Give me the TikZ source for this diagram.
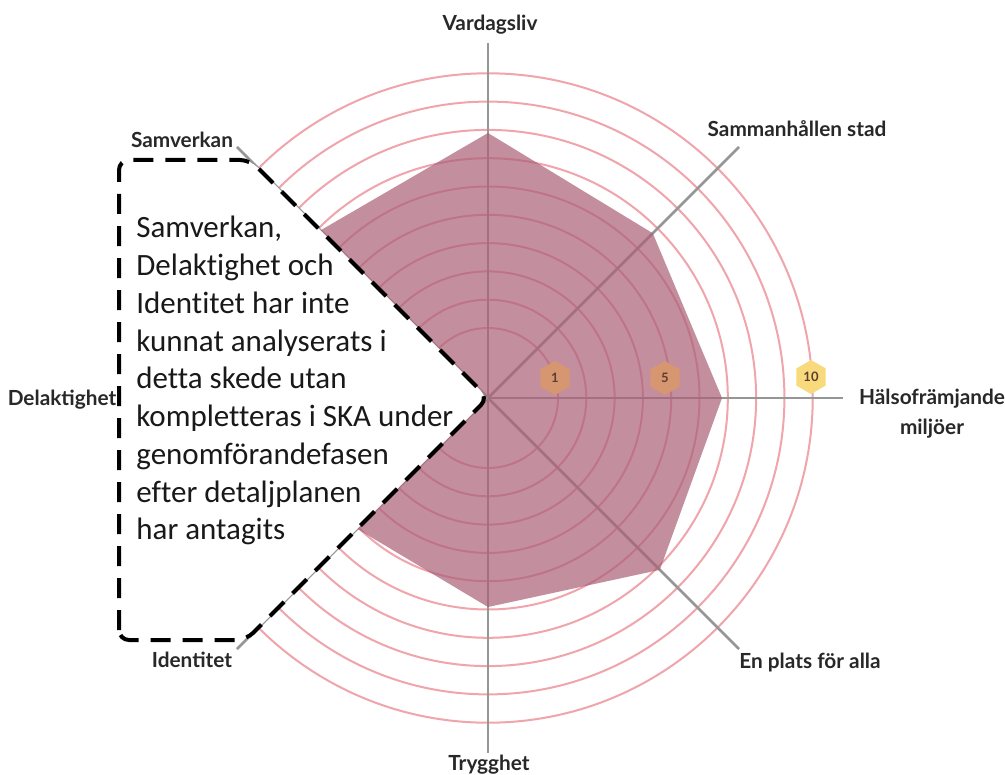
\documentclass[tikz,border=0pt]{standalone}
\usepackage{fontspec}
\setmainfont{Carlito}[Ligatures=NoCommon]
\newfontfamily\labfont{Lato}
\usetikzlibrary{shapes.geometric}
\definecolor{ringpink}{RGB}{240,165,172}
\definecolor{axisgray}{RGB}{150,150,150}
\definecolor{polyfill}{RGB}{170,96,118}
\definecolor{hexorange}{RGB}{214,150,112}
\definecolor{hexyellow}{RGB}{248,218,125}
\definecolor{hextext}{RGB}{95,62,50}
\definecolor{labtext}{RGB}{40,40,40}
\tikzset{
  ringline/.style={draw=ringpink, line width=1pt},
  axisline/.style={draw=axisgray, line width=1.25pt},
  polyarea/.style={fill=polyfill, fill opacity=0.7},
  axislabel/.style={font=\labfont\bfseries\fontsize{10.4pt}{15pt}\selectfont, text=labtext, inner sep=0pt, align=center},
  hexmark/.style={regular polygon, regular polygon sides=6, shape border rotate=30, minimum size=17pt, inner sep=0pt, font=\labfont\bfseries\fontsize{6.5pt}{7pt}\selectfont, text=hextext},
  notebox/.style={draw=black, line width=2pt, dash pattern=on 10pt off 6pt, fill=white, rounded corners=5pt},
  notetext/.style={font=\fontsize{15.5pt}{18.875pt}\selectfont, text=black!90, inner sep=0pt, align=left}
}
\begin{document}
\begin{tikzpicture}[x=0.5pt,y=-0.5pt]
\useasboundingbox (0,0) rectangle (1005,775);
\fill[white] (0,0) rectangle (1005,775);
\coordinate (c) at (488,398);
% rings
\foreach \i in {0,...,9}
  \draw[ringline] (c) circle[radius={(70+28.3*\i)*0.5pt}];
% axis end points
\foreach \a/\n in {90/v,45/s,0/h,-45/e,-90/t,-135/i,180/d,135/m}
  \coordinate (ax\n) at ([shift={(\a:177.5pt)}]c);
\foreach \n in {v,s,h,e,t,i,d,m}
  \draw[axisline] (c) -- (ax\n);
% data polygon
\coordinate (pv) at ([shift={(90:132.5pt)}]c);
\coordinate (ps) at ([shift={(45:116.5pt)}]c);
\coordinate (ph) at ([shift={(0:117pt)}]c);
\coordinate (pe) at ([shift={(-45:121.5pt)}]c);
\coordinate (pt) at ([shift={(-90:104.5pt)}]c);
\coordinate (pi) at ([shift={(-135:92.5pt)}]c);
\coordinate (pm) at ([shift={(135:118.5pt)}]c);
\path[polyarea] (pv) -- (ps) -- (ph) -- (pe) -- (pt) -- (pi) -- (c) -- (pm) -- cycle;
% scale markers
\node[hexmark, fill=hexorange] (h1) at (555,378) {1};
\node[hexmark, fill=hexorange] (h5) at (665,378) {5};
\node[hexmark, fill=hexyellow] (h10) at (811,377) {10};
% labels
\node[axislabel] (lv) at (490,25) {Vardagsliv};
\node[axislabel] (ls) at (797,129) {Sammanhållen stad};
\node[axislabel] (lh) at (932,414) {Hälsofrämjande\\miljöer};
\node[axislabel] (le) at (810,663) {En plats för alla};
\node[axislabel] (lt) at (489,765) {Trygghet};
\node[axislabel] (ld) at (62,400) {Delaktighet};
\node[axislabel] (lm) at (182,140) {Samverkan};
\node[axislabel] (li) at (192,660) {Identitet};
% overlay note
\coordinate (b1) at (119,640);
\coordinate (b2) at (119,160);
\coordinate (b3) at (250,160);
\coordinate (b4) at (246,640);
\draw[notebox] (b1) -- (b2) -- (b3) -- (c) -- (b4) -- cycle;
\node[notetext, anchor=north west] (note) at (136,216) {Samverkan,\\Delaktighet och\\Identitet har inte\\kunnat analyserats i\\detta skede utan\\kompletteras i SKA under\\genomförandefasen\\efter detaljplanen\\har antagits};
\end{tikzpicture}
\end{document}
